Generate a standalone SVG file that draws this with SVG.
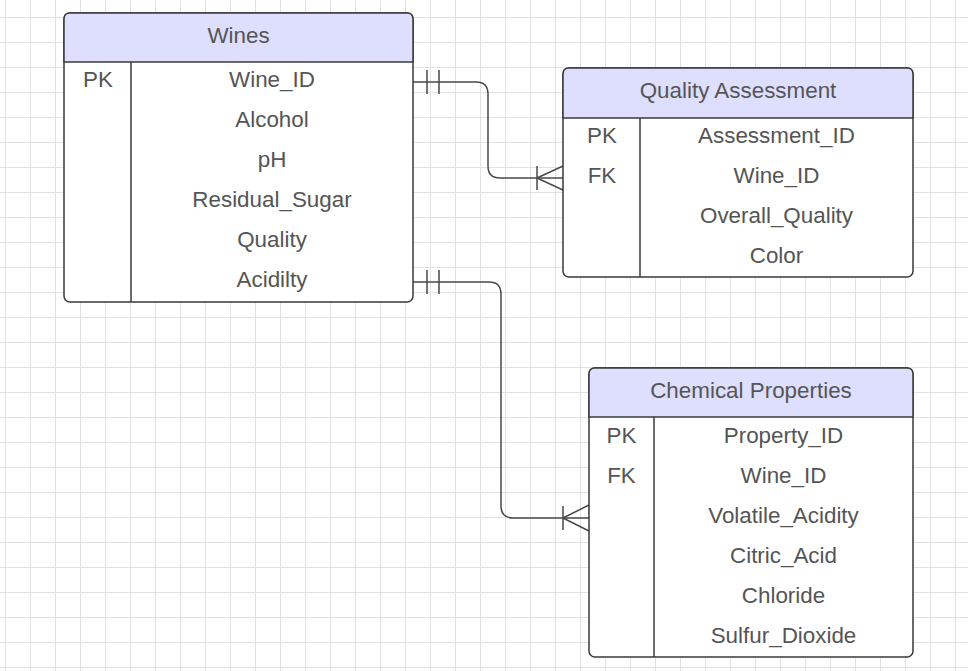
<svg xmlns="http://www.w3.org/2000/svg" width="968" height="671" viewBox="0 0 968 671">
<defs>
<pattern id="grid" patternUnits="userSpaceOnUse" x="5" y="17" width="25" height="25">
<path d="M0.5 0V25M0 0.5H25" stroke="#e2e2e2" stroke-width="1" fill="none"/>
</pattern>
</defs>
<style>
.box{fill:#fff;stroke:#3a3a3a;stroke-width:1.5}
.hdr{fill:#dedeff;stroke:#3a3a3a;stroke-width:1.5}
.ln{stroke:#3a3a3a;stroke-width:1.5;fill:none}
.cn{stroke:#4a4a4a;stroke-width:1.5;fill:none}
text{font-family:"Liberation Sans",Arial,sans-serif;font-size:22.4px;fill:#555;text-anchor:middle}
</style>
<rect width="968" height="671" fill="#fff"/>
<rect width="968" height="671" fill="url(#grid)"/>

<g id="connectors">
<path class="cn" d="M413 82H476Q488 82 488 94V166Q488 178 500 178H563"/>
<path class="cn" d="M427 70V94M439 70V94M537 166V190M537 178L563 166M537 178L563 190"/>
<path class="cn" d="M413 282H489Q501 282 501 294V506Q501 518 513 518H589"/>
<path class="cn" d="M427 270V294M439 270V294M563 506V530M563 518L589 505M563 518L589 531"/>
</g>

<g id="wines">
<rect class="box" x="64" y="13" width="349" height="289" rx="6"/>
<path class="hdr" d="M64 62V19Q64 13 70 13H407Q413 13 413 19V62Z"/>
<path class="ln" d="M131 62V302"/>
<text x="238.5" y="42.5">Wines</text>
<text x="98" y="86.5">PK</text>
<text x="272" y="86.5">Wine_ID</text>
<text x="272" y="126.5">Alcohol</text>
<text x="272" y="166.5">pH</text>
<text x="272" y="206.5">Residual_Sugar</text>
<text x="272" y="246.5">Quality</text>
<text x="272" y="286.5">Acidilty</text>
</g>

<g id="quality-assessment">
<rect class="box" x="563" y="68" width="350" height="209" rx="6"/>
<path class="hdr" d="M563 118V74Q563 68 569 68H907Q913 68 913 74V118Z"/>
<path class="ln" d="M640 118V277"/>
<text x="738" y="97.5">Quality Assessment</text>
<text x="602" y="142.5">PK</text>
<text x="602" y="182.5">FK</text>
<text x="776.5" y="142.5">Assessment_ID</text>
<text x="776.5" y="182.5">Wine_ID</text>
<text x="776.5" y="222.5">Overall_Quality</text>
<text x="776.5" y="262.5">Color</text>
</g>

<g id="chemical-properties">
<rect class="box" x="589" y="368" width="324" height="289" rx="6"/>
<path class="hdr" d="M589 417V374Q589 368 595 368H907Q913 368 913 374V417Z"/>
<path class="ln" d="M654 417V657"/>
<text x="751" y="397.5">Chemical Properties</text>
<text x="621.5" y="442.5">PK</text>
<text x="621.5" y="482.5">FK</text>
<text x="783.5" y="442.5">Property_ID</text>
<text x="783.5" y="482.5">Wine_ID</text>
<text x="783.5" y="522.5">Volatile_Acidity</text>
<text x="783.5" y="562.5">Citric_Acid</text>
<text x="783.5" y="602.5">Chloride</text>
<text x="783.5" y="642.5">Sulfur_Dioxide</text>
</g>
</svg>
